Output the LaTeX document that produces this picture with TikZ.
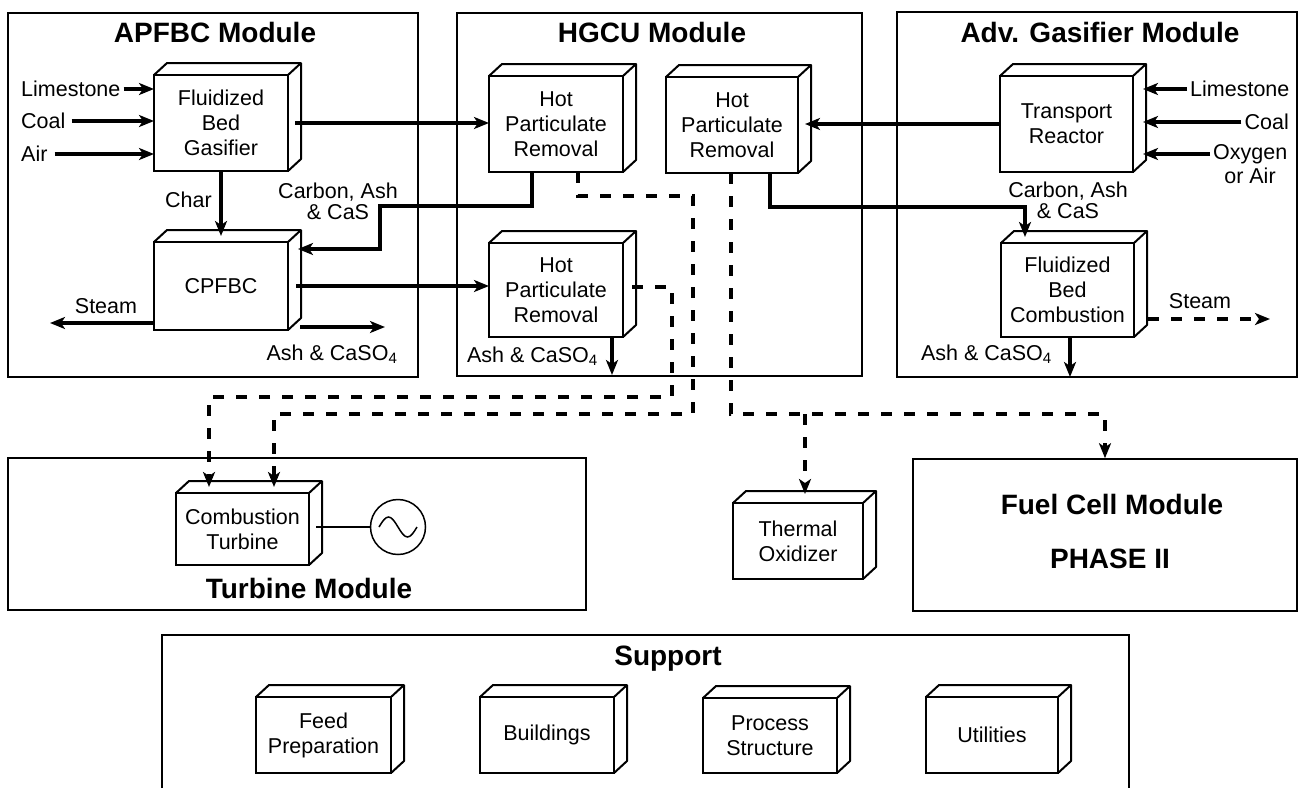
\documentclass[tikz,border=0pt]{standalone}
\usepackage{fontspec}
\setmainfont{Liberation Sans}
\usetikzlibrary{arrows.meta,calc}
\tikzset{
  every node/.style={font=\fontsize{21.5}{25}\selectfont, inner sep=0pt},
  module/.style={draw, line width=1.6pt},
  cube/.style={draw, line width=2pt, fill=white, align=center, inner sep=0pt, outer sep=0pt},
  cubeface/.style={draw, line width=2pt, line join=round},
  arrowtip/.style={-{Stealth[length=15pt,width=12pt,inset=4pt]}},
  flow/.style={line width=3.3pt, arrowtip},
  dflow/.style={line width=4pt, dash pattern=on 11pt off 12pt, arrowtip},
  title/.style={font=\bfseries\fontsize{28}{30}\selectfont, anchor=base},
  lbl/.style={inner xsep=3pt},
  twoline/.style={align=center, font=\fontsize{21.5}{21}\selectfont},
}
\newcommand{\cubenode}[6]{%
  \node[cube, minimum width={(#4-#2)*1pt}, minimum height={(#5-#3)*1pt}] (#1) at ({(#2+#4)/2},{(#3+#5)/2}) {#6};
  \draw[cubeface] (#1.north west) -- ++(13pt,12pt) -- ([shift={(13pt,12pt)}]#1.north east) -- ([shift={(13pt,12pt)}]#1.south east) -- (#1.south east);
  \draw[cubeface] (#1.north east) -- ++(13pt,12pt);
}
\begin{document}
\begin{tikzpicture}[x=1pt,y=-1pt]
\path[use as bounding box, fill=white] (0,0) rectangle (1299,788);

% module boxes
\node[module, minimum width=410pt, minimum height=364pt] (apfbc) at (213,195) {};
\node[module, minimum width=405pt, minimum height=363pt] (hgcu) at (659.5,194.5) {};
\node[module, minimum width=400pt, minimum height=365pt] (adv) at (1097,194.5) {};
\node[module, minimum width=578pt, minimum height=152pt] (turb) at (297,534) {};
\node[module, minimum width=384pt, minimum height=152pt] (fuel) at (1105,535) {};
\draw[module] (162,788) -- (162,635) -- (1129,635) -- (1129,788);

% titles
\node[title] (t1) at (215,42) {APFBC Module};
\node[title] (t2) at (652,42) {HGCU Module};
\node[title] (t3) at (1100,42) {Adv. Gasifier Module};
\node[title] (t4) at (309,598) {Turbine Module};
\node[title] (t5) at (1112,514) {Fuel Cell Module};
\node[title] (t6) at (1110,568) {PHASE II};
\node[title] (t7) at (668,665) {Support};

% cubes
\cubenode{fbg}{154}{75}{288}{171}{Fluidized\\Bed\\Gasifier}
\cubenode{cpfbc}{154}{242}{288}{330}{CPFBC}
\cubenode{hpr1}{489}{76}{623}{172}{Hot\\Particulate\\Removal}
\cubenode{hpr2}{666}{77}{798}{173}{Hot\\Particulate\\Removal}
\cubenode{hpr3}{489}{243}{623}{337}{Hot\\Particulate\\Removal}
\cubenode{tr}{1000}{76}{1133}{172}{Transport\\Reactor}
\cubenode{fbc}{1001}{243}{1134}{337}{Fluidized\\Bed\\Combustion}
\cubenode{ct}{176}{493}{309}{565}{Combustion\\Turbine}
\cubenode{tox}{733}{503}{863}{579}{Thermal\\Oxidizer}
\cubenode{fp}{256}{697}{391}{773}{Feed\\Preparation}
\cubenode{bld}{480}{697}{614}{773}{Buildings}
\cubenode{ps}{703}{698}{837}{773}{Process\\Structure}
\cubenode{ut}{926}{697}{1058}{773}{Utilities}

% generator
\node[draw, circle, minimum size=55pt, line width=1.5pt] (gen) at (398,527) {};
\draw[line width=1.5pt] ($(gen)+(-19pt,0)$) sin ++(9.5pt,10pt) cos ++(9.5pt,-10pt) sin ++(9.5pt,-10pt) cos ++(9.5pt,10pt);
\draw[line width=1.3pt] ($(ct.east |- gen)+(7pt,0)$) -- (gen.west);

% APFBC inputs
\node[lbl, anchor=west] (lime1) at (18,89) {Limestone};
\node[lbl, anchor=west] (coal1) at (18,121) {Coal};
\node[lbl, anchor=west] (air1) at (18,154) {Air};
\draw[flow] (lime1.east) -- (lime1.east -| fbg.west);
\draw[flow] ([xshift=3pt]coal1.east) -- (coal1.east -| fbg.west);
\draw[flow] ([xshift=4pt]air1.east) -- (air1.east -| fbg.west);

% APFBC internal flows
\draw[flow] ([xshift=7pt]fbg.east) -- (hpr1.west |- fbg.east);
\draw[flow] (fbg.south) -- ([yshift=6pt]cpfbc.north);
\node[anchor=base east] (char) at (212,207) {Char};
\node[twoline] (carb1) at (338,201) {Carbon, Ash\\\& CaS};
\coordinate (c1) at (380,206);
\coordinate (c2) at ($(cpfbc.east)+(10pt,37pt)$);
\draw[flow] ([xshift=-24pt]hpr1.south) |- (c1) |- (c2);
\draw[flow] ([xshift=8pt]cpfbc.east) -- (hpr3.west |- cpfbc.east);
\coordinate (steam1) at (50,323);
\draw[flow] (cpfbc.west |- steam1) -- (steam1);
\node[anchor=base] (steamlbl1) at (106,313) {Steam};
\coordinate (ash1) at (385,327);
\draw[flow] ($(cpfbc.east |- ash1)+(12pt,0)$) -- (ash1);
\node[anchor=base] (ashlbl1) at (332,360) {Ash \& CaSO\textsubscript{4}};

% HGCU
\coordinate (ash2) at (612,375);
\draw[flow] (hpr3.south -| ash2) -- (ash2);
\node[anchor=base east] (ashlbl2) at (598,362) {Ash \& CaSO\textsubscript{4}};
\draw[flow] (tr.west) -- ($(hpr2.east |- tr.west)+(7pt,0)$);
\coordinate (e1) at (1025,207);
\draw[flow] ([xshift=38pt]hpr2.south) |- (e1) -- ($(e1 |- fbc.north)+(0,6pt)$);

% Adv gasifier inputs
\node[lbl, anchor=west] (lime2) at (1187,89) {Limestone};
\node[lbl, anchor=east] (coal2) at (1292,122) {Coal};
\node[lbl, anchor=west] (oxy) at (1210,154) {Oxygen};
\node[anchor=base] (orair) at (1250,183) {or Air};
\draw[flow] (lime2.west) -- ($(tr.east |- lime2.west)+(10pt,0)$);
\draw[flow] (coal2.west) -- ($(tr.east |- coal2.west)+(10pt,0)$);
\draw[flow] (oxy.west) -- ($(tr.east |- oxy.west)+(10pt,0)$);
\node[twoline] (carb2) at (1068,200) {Carbon, Ash\\\& CaS};
\coordinate (steam2) at (1270,319);
\draw[dflow, line width=3.3pt] ($(fbc.east |- steam2)+(14pt,0)$) -- (steam2);
\node[anchor=base] (steamlbl2) at (1200,308) {Steam};
\coordinate (ash3) at (1070,377);
\draw[flow] (fbc.south -| ash3) -- (ash3);
\node[anchor=base east] (ashlbl3) at (1052,360) {Ash \& CaSO\textsubscript{4}};

% dashed gas lines
\coordinate (j1) at (693,196);
\coordinate (j2) at (693,414);
\draw[dflow] ([xshift=22pt]hpr1.south) |- (j1) -- (j2) -| ([xshift=31.5pt,yshift=6pt]ct.north);
\coordinate (k1) at (672,397);
\draw[dflow] ([shift={(9pt,3pt)}]hpr3.east) -| (k1) -| ([xshift=-33.5pt,yshift=6pt]ct.north);
\coordinate (m1) at (1105,414);
\coordinate (m2) at (805,414);
\draw[dflow] ([xshift=-1pt]hpr2.south) |- (m1) -- (fuel.north);
\draw[dflow] (m2) -- ($(m2 |- tox.north)+(0,9pt)$);
\end{tikzpicture}
\end{document}
